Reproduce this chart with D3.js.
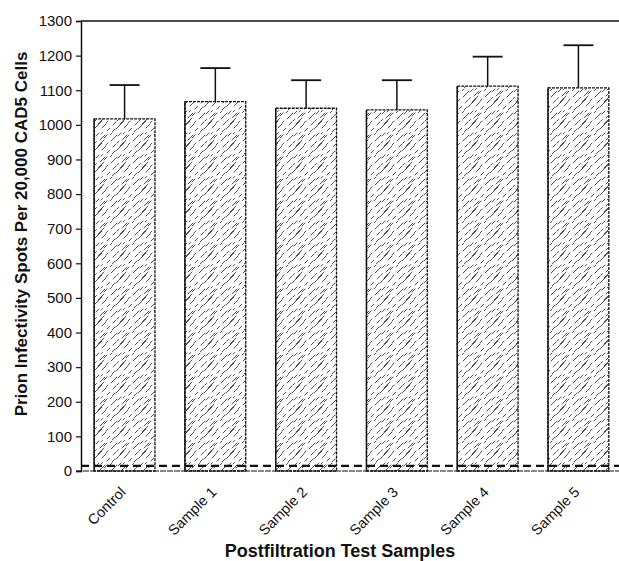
<!DOCTYPE html>
<html>
<head>
<meta charset="utf-8">
<script src="https://cdn.jsdelivr.net/npm/d3@7/dist/d3.min.js"></script>
<style>
  body { margin: 0; background: #fff; }
  svg { display: block; font-family: "Liberation Sans", Arial, sans-serif; }
  .tick text { fill: #111; }
</style>
</head>
<body>
<svg id="chart"></svg>
<script>
const width = 619;
const height = 561;

// data
const samples = ["Control", "Sample 1", "Sample 2", "Sample 3", "Sample 4", "Sample 5"];
const means = [1017, 1067, 1048, 1043, 1112, 1107];
const upperErr = [1115, 1164, 1129, 1129, 1197, 1230];
const yTicks = [0, 100, 200, 300, 400, 500, 600, 700, 800, 900, 1000, 1100, 1200, 1300];
const background = 15;   // dashed detection line

var svg = d3.select("#chart").attr("width", width).attr("height", height);

var xScale = d3.scaleBand().domain(samples).range([81, 622])
  .paddingInner(0.33).paddingOuter(0.145);
var yScale = d3.scaleLinear().domain([0, 1300]).range([471, 21]);

// hatch fill: broken "/" strokes, like the scanned pattern
var strokes = [[1,9,6],[6,19,8],[12,8,5],[14,18,4],[3,15,3],[10,14,6],[16,6,3],
               [18,13,2],[0,3,2],[8,4,3],[13,2,1.5],[2,22,3],[19,21,4],[7,11,1.5]];
var defs = svg.append("defs");
var pat = defs.append("pattern")
  .attr("id", "hatch")
  .attr("patternUnits", "userSpaceOnUse")
  .attr("width", 22).attr("height", 22);
pat.selectAll("line")
  .data(strokes)
  .enter()
  .append("line")
  .attr("x1", d => d[0]).attr("y1", d => d[1])
  .attr("x2", d => d[0] + d[2]).attr("y2", d => d[1] - d[2])
  .attr("stroke", "#222").attr("stroke-width", 0.8)
  .attr("stroke-linecap", "round");

// bars
svg.selectAll("rect.bar")
  .data(samples)
  .enter()
  .append("rect")
  .attr("class", "bar")
  .attr("x", d => xScale(d))
  .attr("y", (d, i) => yScale(means[i]))
  .attr("width", xScale.bandwidth())
  .attr("height", (d, i) => yScale(0) - yScale(means[i]))
  .attr("fill", "url(#hatch)")
  .attr("stroke", "#111")
  .attr("stroke-width", 1.3)
  .attr("stroke-dasharray", "3,1");

// solid left edges
svg.selectAll("line.edge")
  .data(samples)
  .enter()
  .append("line")
  .attr("class", "edge")
  .attr("x1", d => xScale(d)).attr("x2", d => xScale(d))
  .attr("y1", (d, i) => yScale(means[i])).attr("y2", yScale(0))
  .attr("stroke", "#111").attr("stroke-width", 1.4);

// error bars (upper only)
var cap = 15;
var err = svg.selectAll("g.err")
  .data(samples)
  .enter()
  .append("g")
  .attr("class", "err")
  .attr("transform", d => `translate(${xScale(d) + xScale.bandwidth() / 2},0)`);
err.append("line")
  .attr("x1", 0).attr("x2", 0)
  .attr("y1", (d, i) => yScale(means[i]))
  .attr("y2", (d, i) => yScale(upperErr[i]))
  .attr("stroke", "#111").attr("stroke-width", 1.5);
err.append("line")
  .attr("x1", -cap).attr("x2", cap)
  .attr("y1", (d, i) => yScale(upperErr[i]))
  .attr("y2", (d, i) => yScale(upperErr[i]))
  .attr("stroke", "#111").attr("stroke-width", 1.8);

// frame: top line and baseline
svg.append("line")
  .attr("x1", 81).attr("x2", width)
  .attr("y1", yScale(1300)).attr("y2", yScale(1300))
  .attr("stroke", "#111").attr("stroke-width", 1.5);
svg.append("line")
  .attr("x1", 76).attr("x2", width)
  .attr("y1", yScale(0)).attr("y2", yScale(0))
  .attr("stroke", "#111").attr("stroke-width", 1.2)
  .attr("stroke-dasharray", "6,1");

// dashed background line
svg.append("line")
  .attr("x1", 81).attr("x2", width)
  .attr("y1", yScale(background)).attr("y2", yScale(background))
  .attr("stroke", "#111").attr("stroke-width", 2.2)
  .attr("stroke-dasharray", "8,5");

// y axis
var yAxis = d3.axisLeft(yScale).tickValues(yTicks).tickFormat(d3.format("d"))
  .tickSize(5).tickPadding(4);
var gy = svg.append("g")
  .attr("transform", "translate(81,0)")
  .call(yAxis);
gy.select(".domain").attr("stroke", "#111").attr("stroke-width", 1.5);
gy.selectAll(".tick line").attr("stroke", "#111").attr("stroke-width", 1.2);
gy.selectAll(".tick text")
  .attr("font-size", 15)
  .attr("font-family", "Liberation Sans, Arial, sans-serif");

// x labels
var xAxis = d3.axisBottom(xScale).tickSize(0).tickPadding(0);
var gx = svg.append("g")
  .attr("transform", `translate(0,${yScale(0)})`)
  .call(xAxis);
gx.select(".domain").remove();
gx.selectAll(".tick text")
  .attr("font-size", 14.5)
  .attr("font-family", "Liberation Sans, Arial, sans-serif")
  .attr("text-anchor", "end")
  .attr("dy", 0)
  .attr("transform", "translate(2,22) rotate(-45)");

// titles
svg.append("text")
  .attr("x", 340).attr("y", 557)
  .attr("text-anchor", "middle")
  .attr("font-size", 18).attr("font-weight", "bold")
  .attr("fill", "#111")
  .text("Postfiltration Test Samples");

svg.append("text")
  .attr("transform", `translate(27,${(45 + 423) / 2}) rotate(-90)`)
  .attr("text-anchor", "middle")
  .attr("font-size", 17).attr("font-weight", "bold")
  .attr("fill", "#111")
  .text("Prion Infectivity Spots Per 20,000 CAD5 Cells");
</script>
</body>
</html>
